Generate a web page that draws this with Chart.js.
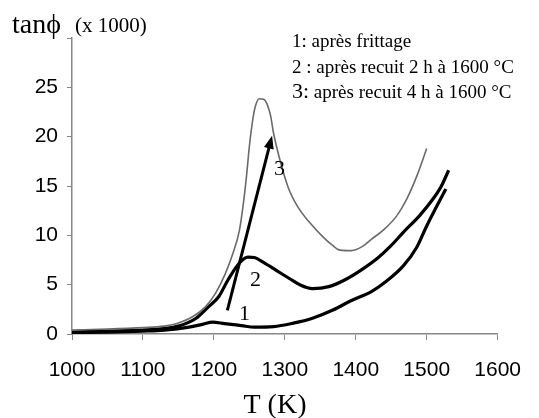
<!DOCTYPE html>
<html>
<head>
<meta charset="utf-8">
<script src="https://cdn.jsdelivr.net/npm/chart.js@4.4.1/dist/chart.umd.min.js"></script>
<style>
  body { margin: 0; background: #fff; }
  #wrap { width: 539px; height: 418px; }
</style>
</head>
<body>
<div id="wrap"><canvas id="grafico" width="539" height="418"></canvas></div>
<script>
// courbe 3 : après recuit 4 h (gris)
const temps3 = [1000, 1050, 1100, 1130, 1147, 1170, 1188, 1202, 1216, 1227, 1236, 1241, 1246, 1250, 1255, 1259, 1264, 1270, 1275, 1280, 1284, 1294, 1305, 1319, 1335, 1353, 1367, 1378, 1394, 1410, 1422, 1440, 1458, 1472, 1486, 1500];
const tan3 = [0.4, 0.5, 0.65, 0.8, 1.05, 1.75, 2.75, 4.1, 6.1, 8.2, 10.5, 12.9, 16.0, 19.0, 21.8, 23.2, 23.85, 23.8, 23.3, 22.1, 20.4, 17.4, 14.8, 12.8, 11.3, 9.9, 9.0, 8.5, 8.45, 8.9, 9.6, 10.6, 12.0, 13.7, 16.0, 18.8];

// courbe 2 : après recuit 2 h
const temps2 = [1000, 1050, 1100, 1130, 1150, 1175, 1193, 1207, 1220, 1236, 1248, 1257, 1271, 1289, 1307, 1321, 1339, 1362, 1385, 1408, 1431, 1449, 1467, 1490, 1508, 1520, 1531];
const tan2 = [0.2, 0.3, 0.4, 0.55, 0.8, 1.6, 2.8, 3.8, 5.5, 7.2, 7.8, 7.75, 7.2, 6.4, 5.6, 5.0, 4.6, 4.8, 5.5, 6.5, 7.7, 8.9, 10.3, 12.0, 13.6, 14.9, 16.6];

// courbe 1 : après frittage
const temps1 = [1000, 1050, 1100, 1130, 1165, 1185, 1198, 1215, 1239, 1257, 1284, 1312, 1339, 1367, 1394, 1422, 1444, 1467, 1486, 1499, 1513, 1527];
const tan1 = [0.15, 0.2, 0.3, 0.4, 0.7, 1.0, 1.2, 1.05, 0.85, 0.7, 0.75, 1.1, 1.6, 2.4, 3.4, 4.3, 5.4, 6.9, 8.8, 10.8, 12.8, 14.7];

const legende = ['1: après frittage', '2 : après recuit 2 h à 1600 °C', '3: après recuit 4 h à 1600 °C'];

function pontos(ts, vs) {
    return ts.map((t, i) => ({ x: t, y: vs[i] }));
}

const serif = '"Liberation Serif", "Times New Roman", serif';
const sans = '"Liberation Sans", Arial, sans-serif';

const anotacoes = {
    id: 'anotacoes',
    afterDatasetsDraw(chart) {
        const ctx = chart.ctx;
        const sx = chart.scales.x, sy = chart.scales.y;
        ctx.save();
        ctx.fillStyle = '#000';
        ctx.textBaseline = 'alphabetic';
        ctx.textAlign = 'left';

        // titre axe y
        ctx.font = '28px ' + serif;
        ctx.fillText('tanϕ', 12, 33);
        const wt = ctx.measureText('tanϕ').width;
        ctx.font = '21px ' + serif;
        ctx.fillText('(x 1000)', Math.max(75, 12 + wt + 6), 32);

        // titre axe x
        ctx.font = '28px ' + serif;
        ctx.textAlign = 'center';
        ctx.fillText('T (K)', 275, 413);
        ctx.textAlign = 'left';

        // légende
        ctx.font = '19px ' + serif;
        ctx.fillText(legende[0], 292, 47);
        ctx.fillText(legende[1], 292, 73);
        ctx.font = '22px ' + serif;
        ctx.fillText('3:', 292, 98);
        const w = ctx.measureText('3:').width;
        ctx.font = '19px ' + serif;
        ctx.fillText(legende[2].slice(2), 292 + w, 98);

        // numéros des courbes
        ctx.font = '22px ' + serif;
        ctx.fillText('1', 239, 320);
        ctx.fillText('2', 250, 286);
        ctx.fillText('3', 274, 175);

        // flèche
        const x0 = sx.getPixelForValue(1219), y0 = sy.getPixelForValue(2.4);
        const x1 = sx.getPixelForValue(1282), y1 = sy.getPixelForValue(20.1);
        const ang = Math.atan2(y1 - y0, x1 - x0);
        const L = 13, H = 5;
        ctx.strokeStyle = '#000';
        ctx.lineWidth = 3;
        ctx.beginPath();
        ctx.moveTo(x0, y0);
        ctx.lineTo(x1 - L * 0.8 * Math.cos(ang), y1 - L * 0.8 * Math.sin(ang));
        ctx.stroke();
        ctx.beginPath();
        ctx.moveTo(x1, y1);
        ctx.lineTo(x1 - L * Math.cos(ang) + H * Math.sin(ang), y1 - L * Math.sin(ang) - H * Math.cos(ang));
        ctx.lineTo(x1 - L * Math.cos(ang) - H * Math.sin(ang), y1 - L * Math.sin(ang) + H * Math.cos(ang));
        ctx.closePath();
        ctx.fill();
        ctx.restore();
    }
};

const ctx = document.getElementById('grafico').getContext('2d');
const grafico = new Chart(ctx, {
    type: 'line',
    data: {
        datasets: [
            {
                label: legende[2],
                data: pontos(temps3, tan3),
                borderColor: '#6a6a6a',
                borderWidth: 1.6,
                pointRadius: 0,
                cubicInterpolationMode: 'monotone'
            },
            {
                label: legende[1],
                data: pontos(temps2, tan2),
                borderColor: '#000',
                borderWidth: 3.2,
                pointRadius: 0,
                cubicInterpolationMode: 'monotone'
            },
            {
                label: legende[0],
                data: pontos(temps1, tan1),
                borderColor: '#000',
                borderWidth: 3.2,
                pointRadius: 0,
                cubicInterpolationMode: 'monotone'
            }
        ]
    },
    plugins: [anotacoes],
    options: {
        responsive: false,
        animation: false,
        layout: {
            padding: { top: 38, right: 29, left: 0, bottom: 0 }
        },
        scales: {
            x: {
                type: 'linear',
                min: 1000,
                max: 1600,
                afterFit: s => { s.height = 84; },
                ticks: {
                    stepSize: 100,
                    color: '#000',
                    padding: 18,
                    maxRotation: 0,
                    font: { family: sans, size: 21 },
                    callback: v => String(v)
                },
                grid: {
                    drawOnChartArea: false,
                    tickLength: 6,
                    color: '#888'
                },
                border: { color: '#888', width: 1.5 }
            },
            y: {
                min: 0,
                max: 30,
                afterFit: s => { s.width = 72; },
                ticks: {
                    stepSize: 5,
                    color: '#000',
                    padding: 9,
                    font: { family: sans, size: 21 },
                    callback: v => (v === 30 ? '' : String(v))
                },
                grid: {
                    drawOnChartArea: false,
                    tickLength: 5,
                    color: '#888'
                },
                border: { color: '#888', width: 1.5 }
            }
        },
        plugins: {
            legend: { display: false },
            tooltip: { enabled: false }
        }
    }
});
</script>
</body>
</html>
